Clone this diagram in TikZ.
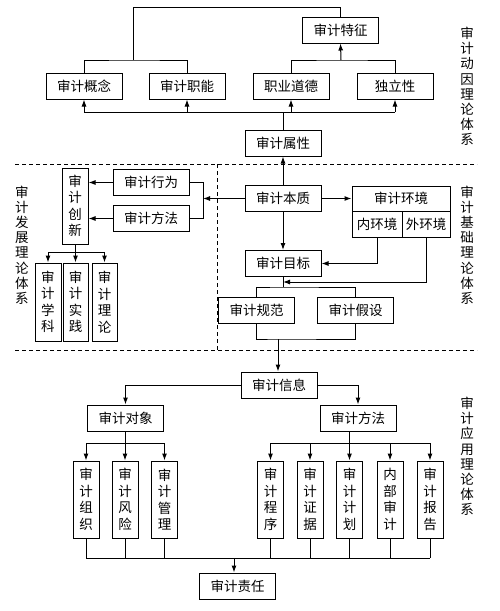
\documentclass[tikz,border=0pt]{standalone}
\usepackage{fontspec}
\setmainfont{Noto Sans CJK SC}
\usetikzlibrary{arrows.meta}

\begin{document}
\begin{tikzpicture}[x=1pt,y=-1pt,line width=1pt,>={Latex[length=7pt,width=5pt]},
	box/.style={draw,minimum width=76pt,minimum height=26pt,inner sep=0pt,font=\fontsize{13.5}{16}\selectfont},
	vbox/.style={draw,minimum width=26pt,minimum height=77pt,inner sep=0pt,align=center,font=\fontsize{13.5}{16.5}\selectfont},
	side/.style={align=center,font=\fontsize{13.5}{15.2}\selectfont},
	sep/.style={dash pattern=on 4pt off 3pt}]
		\useasboundingbox (0,0) rectangle (500,611);
		% dashed borders of the parts
		\draw[sep] (15,164) -- (477,164);
		\draw[sep] (15,350) -- (477,350);
		\draw[sep] (217,164) -- (217,350);
		% side labels
		\node[side] (dongyin) at (467,86.5) {审\\计\\动\\因\\理\\论\\体\\系};
		\node[side] (fazhan) at (22,245) {审\\计\\发\\展\\理\\论\\体\\系};
		\node[side] (jichu) at (467,245) {审\\计\\基\\础\\理\\论\\体\\系};
		\node[side] (yingyong) at (467,456.5) {审\\计\\应\\用\\理\\论\\体\\系};
		% top part
		\node[box] (tezheng) at (340.5,30) {审计特征};
		\node[box] (gainian) at (84,86) {审计概念};
		\node[box] (zhineng) at (187,86) {审计职能};
		\node[box] (daode) at (291,86) {职业道德};
		\node[box] (dulixing) at (395,86) {独立性};
		\node[box] (shuxing) at (283,143) {审计属性};
		\coordinate (tp) at (0,7);
		\coordinate (lb) at (133,60);
		\coordinate (rb) at (341,60);
		\coordinate (busA) at (283,112);
		\draw (gainian.north) |- (lb) -| (zhineng.north);
		\draw (lb) -- (lb |- tp) -| (tezheng.north);
		\draw (daode.north) |- (rb) -| (dulixing.north);
		\draw[->] (rb) -- (tezheng.south);
		\draw (shuxing.north) -- (busA);
		\draw (gainian.south |- busA) -- (dulixing.south |- busA);
		\foreach \n in {gainian,zhineng,daode,dulixing}
		\draw[->] (\n.south |- busA) -- (\n.south);
		% middle part
		\node[box] (benzhi) at (283,198.5) {审计本质};
		\node[box,minimum width=98pt,minimum height=25pt] (huanjing) at (401,198.5) {审计环境};
		\node[box,minimum width=50pt] (nei) at (377,224) {内环境};
		\node[box,minimum width=48pt] (wai) at (426,224) {外环境};
		\node[box] (xingwei) at (151,182.5) {审计行为};
		\node[box] (fangfaA) at (151,218.5) {审计方法};
		\node[vbox,minimum height=76pt] (chuangxin) at (75,206) {审\\计\\创\\新};
		\node[vbox,minimum height=78pt] (xueke) at (48,302) {审\\计\\学\\科};
		\node[vbox,minimum width=25pt,minimum height=78pt] (shijian) at (75.5,302) {审\\计\\实\\践};
		\node[vbox,minimum width=25pt,minimum height=78pt] (lilun) at (104.5,302) {审\\计\\理\\论};
		\node[box] (mubiao) at (283,263.5) {审计目标};
		\node[box] (guifan) at (256.5,310) {审计规范};
		\node[box] (jiashe) at (355.5,310) {审计假设};
		\coordinate (br) at (203,0);
		\coordinate (cb) at (76,252);
		\coordinate (gj) at (283,282);
		\coordinate (fb) at (283,287);
		\coordinate (xb) at (278,339);
		\draw[->] (benzhi.north) -- (shuxing.south);
		\draw[->] (benzhi.east) -- (huanjing.west);
		\draw[->] (benzhi.west) -- (benzhi.west -| br);
		\draw (xingwei.east) -- (xingwei.east -| br) -- (fangfaA.east -| br) -- (fangfaA.east);
		\draw[->] (xingwei.west) -- (xingwei.west -| chuangxin.east);
		\draw[->] (fangfaA.west) -- (fangfaA.west -| chuangxin.east);
		\draw (chuangxin.south) -- (chuangxin.south |- cb);
		\draw (xueke.north |- cb) -- (lilun.north |- cb);
		\foreach \n in {xueke,shijian,lilun}
		\draw[->] (\n.north |- cb) -- (\n.north);
		\draw[->] (benzhi.south) -- (mubiao.north);
		\draw[->] (nei.south) |- (mubiao.east);
		\draw[->] (wai.south) |- (gj);
		\draw (mubiao.south) -- (fb);
		\draw (guifan.north) |- (fb) -| (jiashe.north);
		\draw (guifan.south) |- (xb) -| (jiashe.south);
		% bottom part
		\node[box] (xinxi) at (279,385) {审计信息};
		\node[box] (duixiang) at (125.5,418) {审计对象};
		\node[box] (fangfaB) at (358,418) {审计方法};
		\node[vbox] (zuzhi) at (86,499.5) {审\\计\\组\\织};
		\node[vbox] (fengxian) at (125,499.5) {审\\计\\风\\险};
		\node[vbox] (guanli) at (164.5,499.5) {审\\计\\管\\理};
		\node[vbox] (chengxu) at (270.5,499.5) {审\\计\\程\\序};
		\node[vbox] (zhengju) at (310,499.5) {审\\计\\证\\据};
		\node[vbox] (jihua) at (349.5,499.5) {审\\计\\计\\划};
		\node[vbox] (neibu) at (390,499.5) {内\\部\\审\\计};
		\node[vbox] (baogao) at (430,499.5) {审\\计\\报\\告};
		\node[box] (zeren) at (237.5,586) {审计责任};
		\coordinate (db) at (0,443);
		\coordinate (zb) at (234,558);
		\draw[->] (xb) -- (xb |- xinxi.north);
		\draw[->] (xinxi.west) -| (duixiang.north);
		\draw[->] (xinxi.east) -| (fangfaB.north);
		\draw (duixiang.south -| fengxian.north) -- (fengxian.north |- db);
		\draw (zuzhi.north |- db) -- (guanli.north |- db);
		\foreach \n in {zuzhi,fengxian,guanli}
		\draw[->] (\n.north |- db) -- (\n.north);
		\draw (fangfaB.south -| jihua.north) -- (jihua.north |- db);
		\draw (chengxu.north |- db) -- (baogao.north |- db);
		\foreach \n in {chengxu,zhengju,jihua,neibu,baogao}
		\draw[->] (\n.north |- db) -- (\n.north);
		\foreach \n in {zuzhi,fengxian,guanli,chengxu,zhengju,jihua,neibu,baogao}
		\draw (\n.south) -- (\n.south |- zb);
		\draw (zuzhi.south |- zb) -- (baogao.south |- zb);
		\draw[->] (zb) -- (zb |- zeren.north);
\end{tikzpicture}
\end{document}
